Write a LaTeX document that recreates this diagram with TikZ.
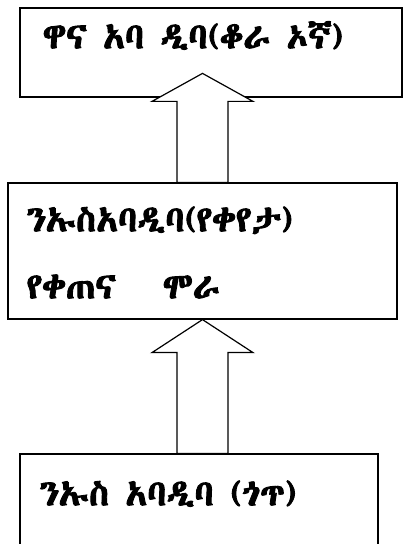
\documentclass[tikz,border=0pt]{standalone}
\usepackage{fontspec}
\usetikzlibrary{positioning, calc}
\IfFontExistsTF{Abyssinica SIL}{%
  \newfontfamily\ethfont[FakeBold=2.5]{Abyssinica SIL}}{%
  \IfFontExistsTF{FreeSerif}{%
    \newfontfamily\ethfont[FakeBold=1.5]{FreeSerif}}{%
    \newfontfamily\ethfont[FakeBold=1.5]{Noto Sans Ethiopic}}}

\tikzset{
  levelbox/.style={draw=black, line width=1.2pt, fill=white, inner sep=0pt},
  levellabel/.style={anchor=base west, inner sep=0pt, font=\ethfont\fontsize{36}{42}\selectfont},
  blockarrow/.style={draw=black, line width=1.2pt, fill=white, line join=miter}
}

% upward block arrow: #1 foot of the shaft, #2 tip, #3 head length
\newcommand{\upblock}[3]{%
  \draw[blockarrow] let \p1=(#1), \p2=(#2) in
    (\x2-25.5pt,\y1) -- (\x2-25.5pt,\y2-#3) -- (\x2-50.5pt,\y2-#3) -- (\x2,\y2)
    -- (\x2+50.5pt,\y2-#3) -- (\x2+25.5pt,\y2-#3) -- (\x2+25.5pt,\y1) -- cycle;}

\begin{document}
\begin{tikzpicture}[x=1pt,y=1pt]
  \useasboundingbox (0,0) rectangle (403,544);
  \fill[white] (0,0) rectangle (403,544);
  \clip (0,0) rectangle (403,544);

  % levels
  \node[levelbox, minimum width=382pt, minimum height=89pt] (main) at (211,491.5) {};
  \node[levelbox, minimum width=389pt, minimum height=136pt] (kebele) at (202.5,293) {};
  \node[levelbox, minimum width=358pt, minimum height=106pt] (gott) at (199,37) {};

  % texts
  \node[levellabel] (mainlbl) at ($(main.north west)+(23,-41)$) {ዋና አባ ዲባ(ቆራ ኦኛ)};
  \node[levellabel] (kebelelbl) at ($(kebele.north west)+(19,-49)$) {ንኡስአባዲባ(የቀየታ)};
  \node[levellabel] (zonelbl) at ($(kebele.north west)+(19,-116)$) {የቀጠና\hspace{1.3em}ሞራ};
  \node[levellabel] (gottlbl) at ($(gott.north west)+(20,-52)$) {ንኡስ አባዲባ (ጎጥ)};

  % arrows
  \coordinate (maintip) at ($(kebele.north)+(0,109)$);
  \upblock{kebele.north}{maintip}{28pt}
  \upblock{gott.north}{kebele.south}{33pt}
\end{tikzpicture}
\end{document}
